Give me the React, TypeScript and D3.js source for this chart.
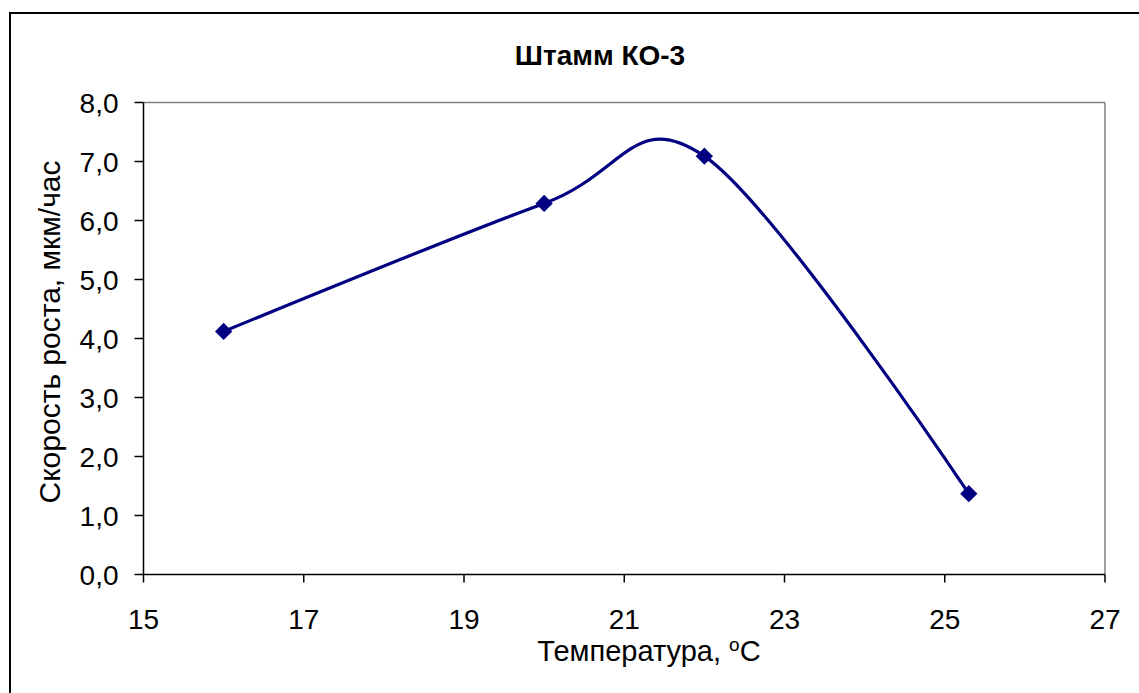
import React from "react";
import * as d3 from "d3";

const temperatures = [16, 20, 22, 25.3];
const growthRates = [4.12, 6.29, 7.09, 1.37];
const xTicks = [15, 17, 19, 21, 23, 25, 27];
const yTicks = [0, 1, 2, 3, 4, 5, 6, 7, 8];

const W = 1139;
const H = 693;
const plot = { left: 143.5, right: 1105, top: 102.5, bottom: 574.5 };
const FONT = "'Liberation Sans', Arial, sans-serif";

export default function App() {
  const x = d3.scaleLinear().domain([15, 27]).range([plot.left, plot.right]);
  const y = d3.scaleLinear().domain([0, 8]).range([plot.bottom, plot.top]);
  const pts = temperatures.map((t, i) => [x(t), y(growthRates[i])] as [number, number]);
  const line = d3.line().curve(d3.curveCardinal.tension(0))(pts) || "";
  const marker = d3.symbol(d3.symbolSquare, 150)() || "";
  const fmt = (v: number) => v.toFixed(1).replace(".", ",");

  return (
    <svg
      width={W}
      height={H}
      style={{ position: "absolute", left: 0, top: 0, background: "#fff" }}
      fontFamily={FONT}
    >
      <rect x={0} y={0} width={W} height={H} fill="#fff" />
      {/* outer chart border */}
      <rect x={10} y={13} width={W + 20} height={H + 20} fill="none" stroke="#000" strokeWidth={2} />
      {/* plot area border (top/right gray) */}
      <line x1={plot.left} x2={plot.right} y1={plot.top} y2={plot.top} stroke="#808080" strokeWidth={1.5} />
      <line x1={plot.right} x2={plot.right} y1={plot.top} y2={plot.bottom} stroke="#808080" strokeWidth={1.5} />
      {/* axes */}
      <line x1={plot.left} x2={plot.left} y1={plot.top} y2={plot.bottom} stroke="#000" strokeWidth={1.5} />
      <line x1={plot.left} x2={plot.right} y1={plot.bottom} y2={plot.bottom} stroke="#000" strokeWidth={1.5} />
      {yTicks.map((v) => (
        <g key={"y" + v}>
          <line x1={plot.left - 9} x2={plot.left} y1={y(v)} y2={y(v)} stroke="#000" strokeWidth={1.5} />
          <text x={plot.left - 25} y={y(v)} dy="0.36em" textAnchor="end" fontSize={28} fill="#000">
            {fmt(v)}
          </text>
        </g>
      ))}
      {xTicks.map((v) => (
        <g key={"x" + v}>
          <line x1={x(v)} x2={x(v)} y1={plot.bottom} y2={plot.bottom + 8} stroke="#000" strokeWidth={1.5} />
          <text x={x(v)} y={plot.bottom + 54} textAnchor="middle" fontSize={28} fill="#000">
            {v}
          </text>
        </g>
      ))}
      {/* title */}
      <text x={600} y={65} textAnchor="middle" fontSize={28} fontWeight="bold" fill="#000">
        Штамм КО-3
      </text>
      {/* x axis title */}
      <text x={649} y={661} textAnchor="middle" fontSize={29} fill="#000">
        Температура, <tspan fontSize={19} dy={-10}>o</tspan>
        <tspan dy={10}>C</tspan>
      </text>
      {/* y axis title */}
      <text
        transform={`translate(60, 332) rotate(-90)`}
        textAnchor="middle"
        fontSize={30}
        fill="#000"
      >
        Скорость роста, мкм/час
      </text>
      {/* series */}
      <path d={line} fill="none" stroke="#000080" strokeWidth={3.2} />
      {pts.map((p, i) => (
        <path key={i} d={marker} transform={`translate(${p[0]},${p[1]}) rotate(45)`} fill="#000080" />
      ))}
    </svg>
  );
}
